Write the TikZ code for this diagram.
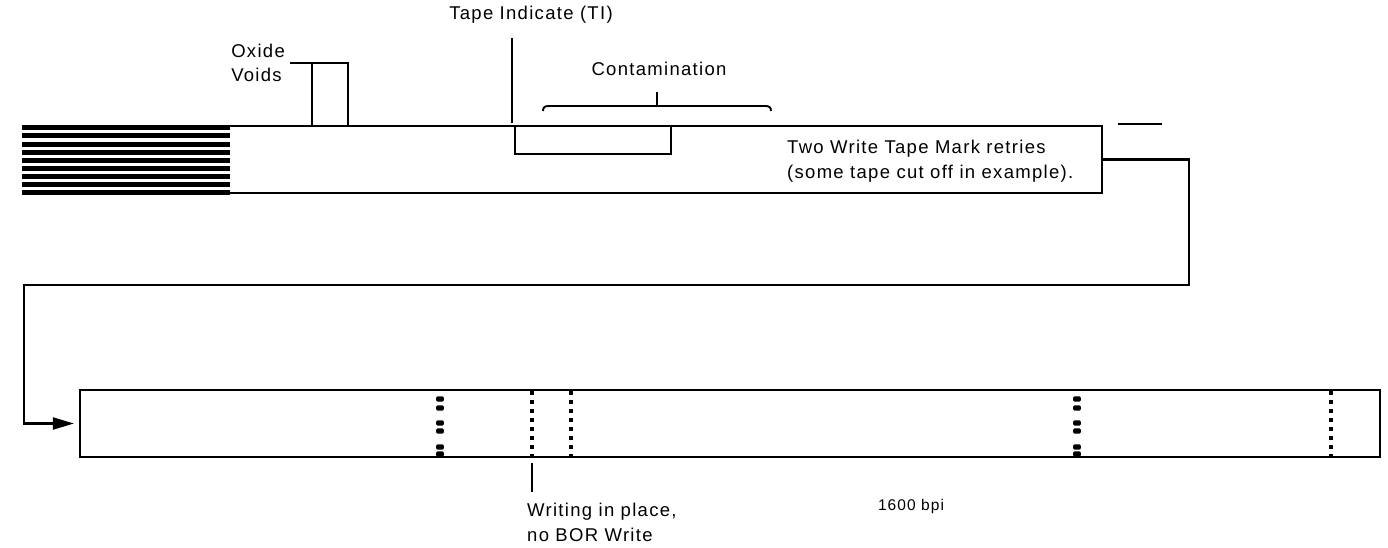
\documentclass[tikz,border=0pt]{standalone}
\usepackage{fontspec}
\setmainfont{Liberation Sans}[LetterSpace=7]
\usetikzlibrary{arrows.meta}
\begin{document}
\begin{tikzpicture}[x=1pt,y=-1pt,
  tapeline/.style={line width=2.2pt},
  conn/.style={line width=2.2pt},
  leader/.style={line width=1.9pt},
  lbl/.style={inner sep=0pt,font=\fontsize{18.5}{24.5}\selectfont},
  stripe/.style={line width=5pt},
  dotmark/.style={fill=black},
  blob/.style={fill=black,rounded corners=1.2pt}
]
\useasboundingbox (0,0) rectangle (1388,547);
% top tape
\node[draw=none,minimum width=1080pt,minimum height=67pt,inner sep=0pt] (ttape) at (562,159.5) {};
\draw[tapeline] (230,126) -- (1102,126) -- (1102,193) -- (230,193);
\foreach \i in {0,...,8} {
  \draw[stripe] (22,{127.8+8.1*\i}) -- (230,{127.8+8.1*\i});
}
\draw[tapeline] (1118,124) -- (1162,124);
% bottom tape
\node[draw,line width=2.2pt,minimum width=1300pt,minimum height=67pt,inner sep=0pt] (btape) at (730,423.5) {};
% connector
\coordinate (c1) at (1189,285);
\coordinate (c2) at (24,285);
\draw[conn,-{Triangle[length=21pt,width=12pt]},shorten >=5pt] (ttape.east) -| (c1) -- (c2) |- (btape.west);
% labels
\node[lbl,align=left,anchor=east] (oxide) at (285,63) {Oxide\\Voids};
\node[lbl] (ti) at (531,15) {Tape Indicate (TI)};
\node[lbl] (cont) at (659,69) {Contamination};
\node[lbl,align=left,anchor=west] (twm) at (787,161) {Two Write Tape Mark retries\\(some tape cut off in example).};
\node[lbl,align=left,anchor=north west] (wip) at (527,503) {Writing in place,\\no BOR Write};
\node[inner sep=0pt,font=\fontsize{15.5}{18}\selectfont] (bpi) at (911,506) {1600 bpi};
% oxide voids leader
\draw[leader] (290,63) -- (348,63) -- (348,126);
\draw[leader] (312,63) -- (312,126);
% tape indicate
\draw[line width=2.6pt] (512,38) -- (512,123);
% contamination box
\draw[leader] (515,126) -- (515,154) -- (671,154) -- (671,126);
% brace
\draw[leader] (543,111) .. controls (543,107) and (545,106) .. (549,106) -- (765,106) .. controls (769,106) and (771,107) .. (771,111);
\draw[leader] (657,106) -- (657,92);
% writing in place leader
\draw[line width=1.3pt] (532,463) -- (532,492);
% thick marks
\foreach \x in {440,1077} {
  \foreach \y in {399,408,423,431,447,454} {
    \fill[blob] (\x-3.8,\y-2.6) rectangle (\x+3.8,\y+2.6);
  }
}
% dotted marks
\foreach \x in {532,571,1331} {
  \foreach \k in {0,...,7} {
    \fill[dotmark] (\x-1.9,{393+9*\k-1.9}) rectangle (\x+1.9,{393+9*\k+1.9});
  }
}
\end{tikzpicture}
\end{document}
